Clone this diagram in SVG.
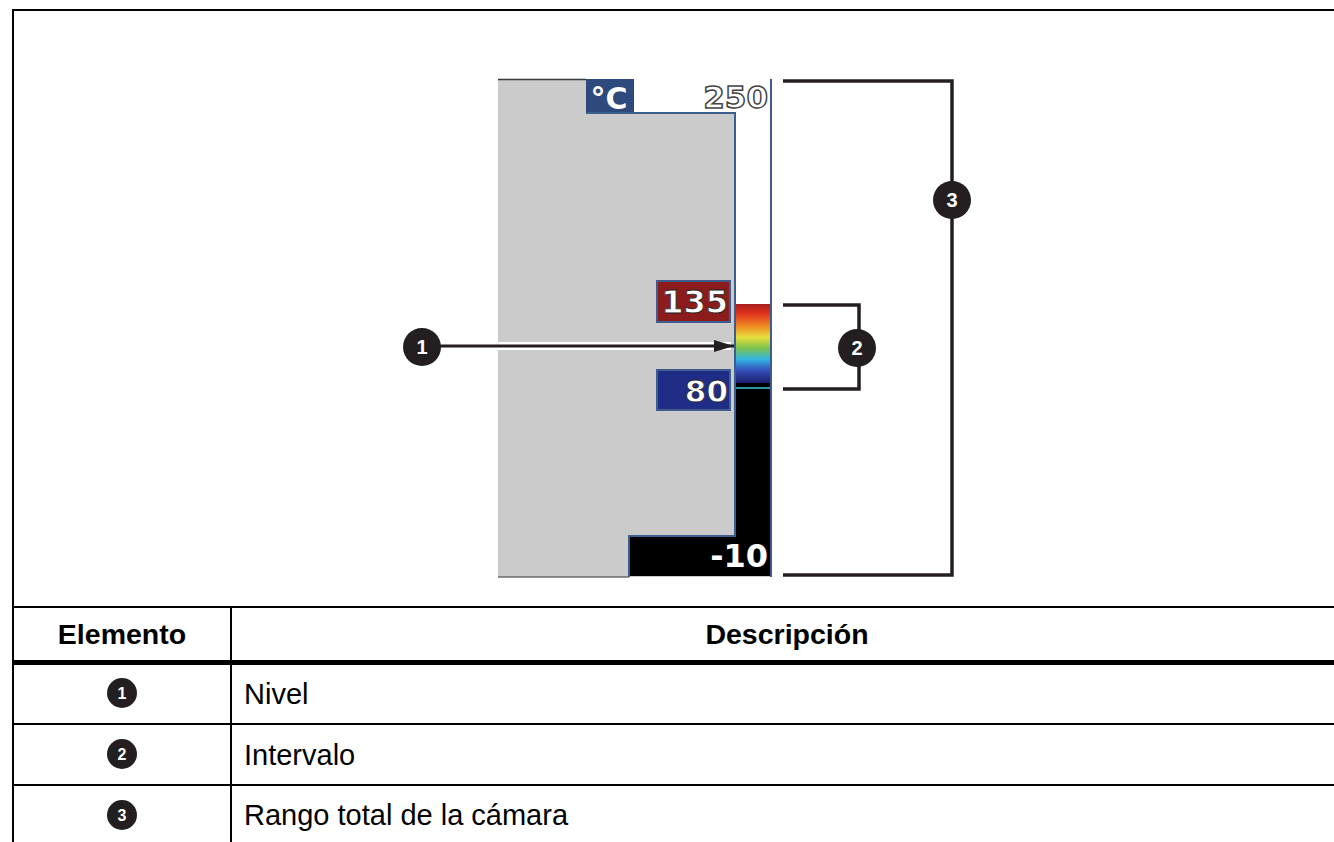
<svg xmlns="http://www.w3.org/2000/svg" width="1334" height="842" viewBox="0 0 1334 842">
<style>
.brk{stroke:#231f20;stroke-width:3.5;fill:none}
.callout{fill:#231f20}
.cnum{fill:#fff;font-family:"Liberation Sans",Arial,sans-serif;font-weight:bold;text-anchor:middle}
.hdr{font-family:"Liberation Sans",Arial,sans-serif;font-weight:bold;font-size:28.5px;fill:#000;text-anchor:middle}
.cell{font-family:"Liberation Sans",Arial,sans-serif;font-size:29px;fill:#000}
.disp{font-family:"DejaVu Sans","Liberation Sans",sans-serif;font-weight:bold;text-anchor:end}
.bd{stroke:#3d5d8f;stroke-width:2;fill:none}
</style>
<defs>
<linearGradient id="pal" x1="0" y1="0" x2="0" y2="1">
<stop offset="0" stop-color="#a81e1e"/>
<stop offset="0.12" stop-color="#e0301e"/>
<stop offset="0.28" stop-color="#f08a22"/>
<stop offset="0.42" stop-color="#e6e03c"/>
<stop offset="0.56" stop-color="#7cc24e"/>
<stop offset="0.7" stop-color="#32b4e2"/>
<stop offset="0.84" stop-color="#3450bc"/>
<stop offset="1" stop-color="#1c1e6a"/>
</linearGradient>
<marker id="arr" markerWidth="20" markerHeight="12" refX="20" refY="6" orient="auto" markerUnits="userSpaceOnUse">
<path d="M0,0 L20,6 L0,12 Z" fill="#231f20"/>
</marker>
</defs>

<g id="frame">
<path d="M13,842 V10 H1334" stroke="#000" stroke-width="2" fill="none"/>
</g>

<g id="display">
<rect x="498" y="79" width="274" height="498" fill="#cbcbcb"/>
<line x1="498" y1="79.5" x2="586" y2="79.5" stroke="#3a3a3a" stroke-width="1.5"/>
<line x1="498" y1="577" x2="629" y2="577" stroke="#6a6a6a" stroke-width="1.5"/>
<rect x="586" y="79" width="48" height="34" fill="#2e4a7d"/>
<rect x="634" y="79" width="137" height="34" fill="#fff"/>
<rect x="735" y="113" width="36" height="191" fill="#fff"/>
<rect x="736" y="304" width="35" height="79" fill="url(#pal)"/>
<rect x="736" y="383" width="35" height="153" fill="#000"/>
<line x1="736" y1="388" x2="771" y2="388" stroke="#3ec6d8" stroke-width="1.5"/>
<rect x="629" y="536" width="142" height="40" fill="#000"/>
<path class="bd" d="M586,113 H735 V536 H629 V577"/>
<line class="bd" x1="771" y1="79" x2="771" y2="577"/>
<text x="609" y="109" class="disp" style="text-anchor:middle" font-size="30" fill="#fff">°C</text>
<text x="768" y="108" class="disp" font-size="31" fill="#fff" stroke="#444" stroke-width="1.5">250</text>
<text x="768" y="567" class="disp" font-size="32" fill="#fff">-10</text>
</g>

<g id="level-high">
<rect x="657" y="281" width="73" height="41" fill="#8c1b1b" stroke="#3d5d8f" stroke-width="2"/>
<text x="728" y="313" class="disp" font-size="32" fill="#fff" stroke="#222" stroke-width="0.8">135</text>
</g>
<g id="level-low">
<rect x="657" y="370" width="73" height="40" fill="#1f2d86" stroke="#3d5d8f" stroke-width="2"/>
<text x="728" y="402" class="disp" font-size="31" fill="#fff" stroke="#222" stroke-width="0.8">80</text>
</g>

<g id="connectors">
<line x1="498" y1="346" x2="731" y2="346" stroke="#fff" stroke-width="8"/>
<line x1="440" y1="346" x2="734" y2="346" stroke="#231f20" stroke-width="3" marker-end="url(#arr)"/>
<path class="brk" d="M783,305 H859 V389 H783"/>
<path class="brk" d="M783,81 H952 V575 H783"/>
</g>

<g id="callout-1">
<circle class="callout" cx="422" cy="347" r="19"/>
<text x="422" y="354" class="cnum" font-size="20">1</text>
</g>
<g id="callout-2">
<circle class="callout" cx="857" cy="348" r="19"/>
<text x="857" y="355" class="cnum" font-size="20">2</text>
</g>
<g id="callout-3">
<circle class="callout" cx="952" cy="200" r="19"/>
<text x="952" y="207" class="cnum" font-size="20">3</text>
</g>

<g id="table">
<line x1="13" y1="607" x2="1334" y2="607" stroke="#000" stroke-width="2"/>
<line x1="13" y1="662.5" x2="1334" y2="662.5" stroke="#000" stroke-width="5"/>
<line x1="13" y1="724" x2="1334" y2="724" stroke="#000" stroke-width="2"/>
<line x1="13" y1="785" x2="1334" y2="785" stroke="#000" stroke-width="2"/>
<line x1="231" y1="607" x2="231" y2="842" stroke="#000" stroke-width="2"/>
<text x="122" y="644" class="hdr">Elemento</text>
<text x="787" y="644" class="hdr">Descripción</text>
<circle class="callout" cx="122" cy="693" r="15"/>
<text x="122" y="699" class="cnum" font-size="16">1</text>
<text x="244" y="704" class="cell">Nivel</text>
<circle class="callout" cx="122" cy="754" r="15"/>
<text x="122" y="760" class="cnum" font-size="16">2</text>
<text x="244" y="765" class="cell">Intervalo</text>
<circle class="callout" cx="122" cy="815" r="15"/>
<text x="122" y="821" class="cnum" font-size="16">3</text>
<text x="244" y="825" class="cell">Rango total de la cámara</text>
</g>
</svg>
